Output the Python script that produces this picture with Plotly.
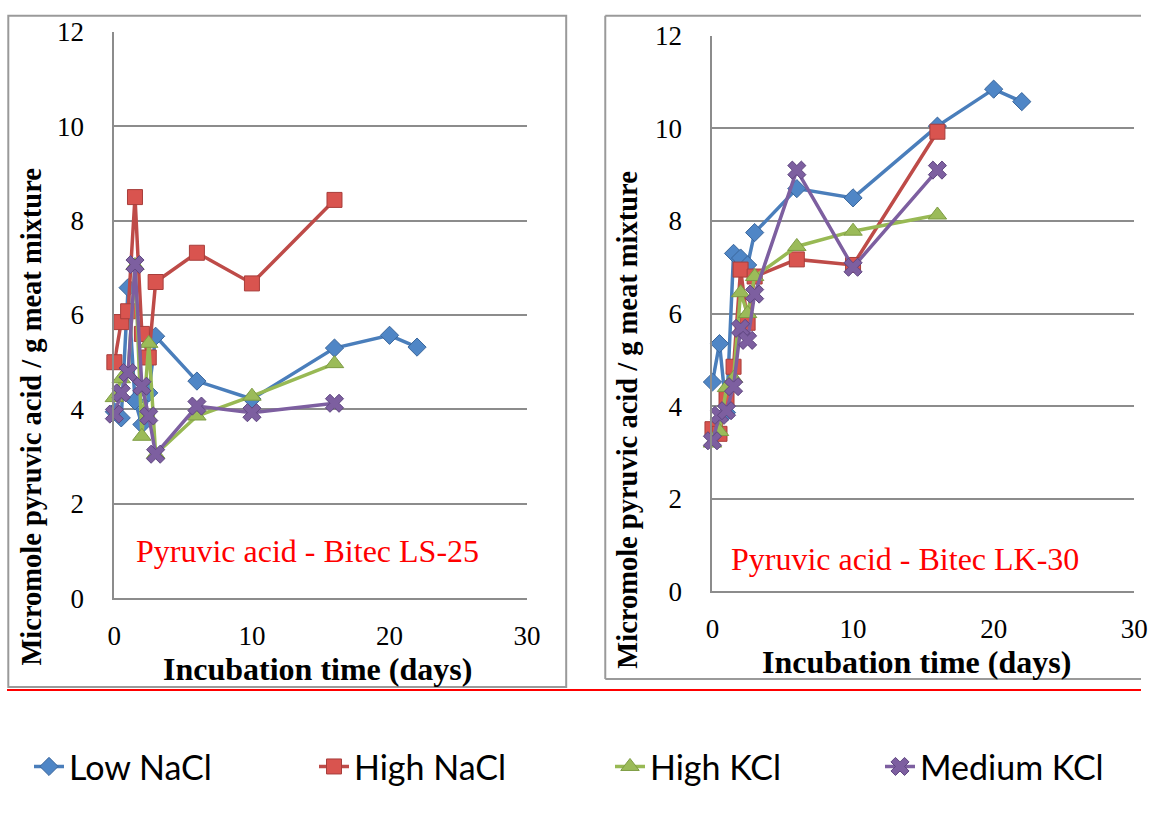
import plotly.graph_objects as go

# Figure fills the page inside the browser's default 8px body margin.
PAGE_W, PAGE_H = 1171, 828
MARGIN = 8
W, H = PAGE_W - 2 * MARGIN, PAGE_H - 2 * MARGIN

# ---- Bitec LS-25: incubation time (days) and pyruvic acid (micromole / g) ----
ls25_low_nacl_days = [0, 0.5, 1, 1.5, 2, 2.5, 3, 6, 10, 16, 20, 22]
ls25_low_nacl = [3.95, 3.82, 6.58, 4.18, 3.68, 4.35, 5.55, 4.6, 4.22, 5.3, 5.57, 5.32]
ls25_high_nacl_days = [0, 0.5, 1, 1.5, 2, 2.5, 3, 6, 10, 16]
ls25_high_nacl = [5.0, 5.85, 6.08, 8.5, 5.6, 5.1, 6.7, 7.32, 6.67, 8.44]
ls25_high_kcl_days = [0, 0.5, 1, 1.5, 2, 2.5, 3, 6, 10, 16]
ls25_high_kcl = [4.25, 4.65, 4.75, 7.05, 3.43, 5.4, 3.05, 3.86, 4.28, 4.97]
ls25_med_kcl_days = [0, 0.5, 1, 1.5, 2, 2.5, 3, 6, 10, 16]
ls25_med_kcl = [3.9, 4.35, 4.78, 7.07, 4.49, 3.86, 3.05, 4.07, 3.93, 4.13]

# ---- Bitec LK-30 ----
lk30_low_nacl_days = [0, 0.5, 1, 1.5, 2, 2.5, 3, 6, 10, 16, 20, 22]
lk30_low_nacl = [4.52, 5.35, 3.86, 7.3, 7.2, 7.05, 7.75, 8.7, 8.5, 10.05, 10.85, 10.58]
lk30_high_nacl_days = [0, 0.5, 1, 1.5, 2, 2.5, 3, 6, 10, 16]
lk30_high_nacl = [3.5, 3.4, 4.15, 4.85, 6.95, 5.8, 6.8, 7.17, 7.05, 9.93]
lk30_high_kcl_days = [0, 0.5, 1, 1.5, 2, 2.5, 3, 6, 10, 16]
lk30_high_kcl = [3.2, 3.45, 4.4, 4.6, 6.45, 6.0, 6.8, 7.45, 7.78, 8.13]
lk30_med_kcl_days = [0, 0.5, 1, 1.5, 2, 2.5, 3, 6, 10, 16]
lk30_med_kcl = [3.25, 3.8, 3.9, 4.42, 5.68, 5.42, 6.42, 9.1, 7.0, 9.1]

series_names = ["Low NaCl", "High NaCl", "High KCl", "Medium KCl"]
x_ticks = [0, 10, 20, 30]
y_ticks = [0, 2, 4, 6, 8, 10, 12]
panel_labels = ["Pyruvic acid - Bitec LS-25", "Pyruvic acid - Bitec LK-30"]
x_title = "Incubation time (days)"
y_title = "Micromole pyruvic acid / g meat mixture"

styles = {
    "Low NaCl":   dict(line="#4A7EBB", fill="#4F86C6", edge="#3A669B", symbol="diamond", size=14, lw=240),
    "High NaCl":  dict(line="#BE4B48", fill="#D9544F", edge="#A83E3B", symbol="square", size=15, lw=251),
    "High KCl":   dict(line="#98B954", fill="#9BBB59", edge="#7E9C43", symbol="triangle-up", size=16, lw=225),
    "Medium KCl": dict(line="#7D5FA0", fill="#7D5FA0", edge="#5F4680", symbol="x", size=16, lw=230),
}

panels = [
    [(ls25_low_nacl_days, ls25_low_nacl), (ls25_high_nacl_days, ls25_high_nacl),
     (ls25_high_kcl_days, ls25_high_kcl), (ls25_med_kcl_days, ls25_med_kcl)],
    [(lk30_low_nacl_days, lk30_low_nacl), (lk30_high_nacl_days, lk30_high_nacl),
     (lk30_high_kcl_days, lk30_high_kcl), (lk30_med_kcl_days, lk30_med_kcl)],
]

# layout positions in page pixels, converted to paper fractions
SX, SY, OY = 0.98, 0.9645, 7.3

def px(v):
    return (v / SX - MARGIN) / W

def py(v):
    return 1 - ((v - OY) / SY - MARGIN) / H

def clamp01(v):
    return min(max(v, 0.0), 1.0)

fig = go.Figure()

for p, panel in enumerate(panels):
    xa = "x" if p == 0 else "x2"
    ya = "y" if p == 0 else "y2"
    for name, (xs, ys) in zip(series_names, panel):
        s = styles[name]
        fig.add_trace(go.Scatter(
            x=xs, y=ys, name=name, xaxis=xa, yaxis=ya,
            mode="lines+markers", legendgroup=name, showlegend=(p == 0),
            legendwidth=s["lw"],
            line=dict(color=s["line"], width=3.5),
            marker=dict(symbol=s["symbol"], size=s["size"], color=s["fill"],
                        line=dict(color=s["edge"], width=1)),
            cliponaxis=False,
        ))

serif = "Liberation Serif, Times New Roman, serif"
axis_common = dict(showgrid=False, zeroline=False, showline=True, linecolor="#8C8C8C",
                   linewidth=2, ticks="", tickfont=dict(family=serif, size=27, color="#000"))
xcommon = dict(axis_common, range=[0, 30], tickvals=x_ticks, ticklabelstandoff=12)
ycommon = dict(axis_common, range=[0, 12], tickvals=y_ticks, showgrid=True,
               gridcolor="#8C8C8C", gridwidth=2, ticklabelstandoff=23)

fig.update_layout(
    width=W, height=H, margin=dict(l=0, r=0, t=0, b=0),
    paper_bgcolor="white", plot_bgcolor="white",
    xaxis=dict(xcommon, domain=[px(115), px(527)], anchor="y"),
    yaxis=dict(ycommon, domain=[py(599), clamp01(py(32))], anchor="x"),
    xaxis2=dict(xcommon, domain=[px(712), clamp01(px(1133))], anchor="y2"),
    yaxis2=dict(ycommon, domain=[py(592), clamp01(py(36))], anchor="x2"),
    showlegend=True,
    legend=dict(orientation="h", x=px(44), xanchor="left", y=py(768), yanchor="middle",
                font=dict(family="Lato, sans-serif", size=34, color="#000"),
                bgcolor="rgba(0,0,0,0)", itemclick=False),
)

frame = dict(color="#9A9A9A", width=2)
top_edge = 0.999
# left panel frame
fig.add_shape(type="rect", xref="paper", yref="paper", x0=clamp01(px(8)) + 0.001, x1=px(566),
              y0=py(688), y1=min(py(8), top_edge), line=frame, layer="below")
# right panel frame runs off the right edge of the page
r_top = min(py(9), top_edge)
for x0, y0, x1, y1 in [(px(605), r_top, 1, r_top), (px(605), r_top, px(605), py(680)),
                       (px(605), py(680), 1, py(680))]:
    fig.add_shape(type="line", xref="paper", yref="paper", x0=x0, y0=y0, x1=x1, y1=y1,
                  line=frame, layer="below")
# red separator above the legend
fig.add_shape(type="line", xref="paper", yref="paper", x0=0, x1=1, y0=py(691), y1=py(691),
              line=dict(color="#FF0000", width=2))

# axis titles and panel labels
title_font = dict(family=serif, size=32, color="#000")
for cx, cy in [(318, 670), (916, 663)]:
    fig.add_annotation(text="<b>" + x_title + "</b>", xref="paper", yref="paper",
                       x=px(cx), y=py(cy), showarrow=False, font=title_font,
                       xanchor="center", yanchor="middle")
for cx, cy in [(32, 417), (627, 420)]:
    fig.add_annotation(text="<b>" + y_title + "</b>", xref="paper", yref="paper",
                       x=px(cx), y=py(cy), showarrow=False, font=dict(title_font, size=28.5),
                       textangle=-90, xanchor="center", yanchor="middle")
for (cx, cy), label in zip([(308, 552), (904, 560)], panel_labels):
    fig.add_annotation(text=label, xref="paper", yref="paper", x=px(cx), y=py(cy),
                       showarrow=False, font=dict(family=serif, size=32, color="#FF0000"),
                       xanchor="center", yanchor="middle")

fig.write_html("out.html")
